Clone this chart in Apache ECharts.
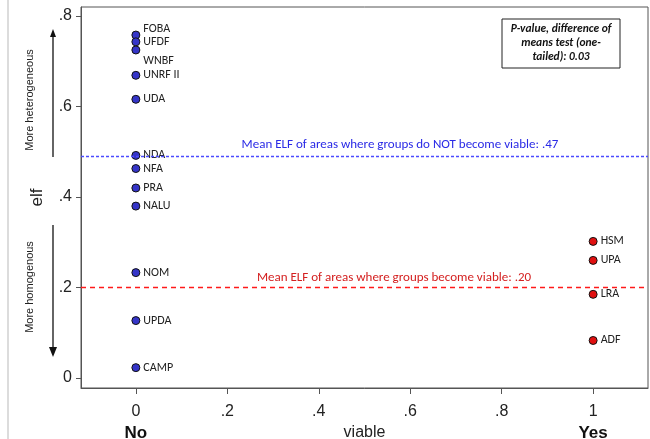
<!DOCTYPE html>
<html>
<head>
<meta charset="utf-8">
<script src="https://cdn.jsdelivr.net/npm/echarts@6/dist/echarts.min.js"></script>
<style>
  html, body { margin: 0; padding: 0; background: #fff; }
  #chart { width: 650px; height: 439px; }
</style>
</head>
<body>
<div id="chart"></div>
<script>
// groups that did NOT become viable (viable = 0)
const notViableNames = ['FOBA', 'UFDF', 'WNBF', 'UNRF II', 'UDA', 'NDA', 'NFA', 'PRA', 'NALU', 'NOM', 'UPDA', 'CAMP'];
const notViableElf = [0.758, 0.743, 0.725, 0.669, 0.616, 0.492, 0.463, 0.420, 0.380, 0.233, 0.127, 0.023];
// groups that became viable (viable = 1)
const viableNames = ['HSM', 'UPA', 'LRA', 'ADF'];
const viableElf = [0.302, 0.260, 0.185, 0.083];

const xTicks = [0, 0.2, 0.4, 0.6, 0.8, 1];
const yTicks = [0, 0.2, 0.4, 0.6, 0.8];
const xCategoryText = ['No', 'Yes'];

// mean lines (as drawn) and their captions
const meanNotViableLine = 0.494;
const meanViableLine = 0.20;
const meanNotViableText = 'Mean ELF of areas where groups do NOT become viable: .47';
const meanViableText = 'Mean ELF of areas where groups become viable: .20';
const pValueLines = ['P-value, difference of', 'means test (one-', 'tailed): 0.03'];

// a couple of labels sit off to the side of their dot
const labelNudge = { FOBA: [0, -6], WNBF: [0, 11] };

const labelFont = 'Carlito, "Liberation Sans", Arial, sans-serif';
const axisFont = '"Liberation Sans", Arial, sans-serif';

function fmtTick(v) {
  if (v === 0) return '0';
  if (v === 1) return '1';
  return String(v).replace(/^0/, '');
}

function buildPoints(names, values, x) {
  return names.map((n, i) => {
    const item = { name: n, value: [x, values[i]] };
    if (labelNudge[n]) item.label = { offset: labelNudge[n] };
    return item;
  });
}

const chart = echarts.init(document.getElementById('chart'));

const pointLabel = {
  show: true,
  position: 'right',
  distance: 3,
  formatter: p => p.name,
  color: '#222',
  fontFamily: labelFont,
  fontSize: 12
};

const blueDash = { color: '#4b4bff', type: [3, 2], width: 1.3 };
const redDash = { color: '#ff1a1a', type: [5, 4], width: 1.3 };

chart.setOption({
  animation: false,
  grid: { left: 81, right: 2, top: 7, bottom: 51, outerBoundsMode: 'none', show: true, borderColor: '#555', borderWidth: 1 },
  xAxis: {
    type: 'value',
    min: -0.12,
    max: 1.12,
    name: 'viable',
    nameLocation: 'middle',
    nameGap: 35,
    nameTextStyle: { fontFamily: axisFont, fontSize: 16, color: '#222' },
    axisLine: { show: true, onZero: false, lineStyle: { color: '#555' } },
    axisTick: { show: true, length: 6, customValues: xTicks, lineStyle: { color: '#555' } },
    axisLabel: { customValues: xTicks, formatter: fmtTick, margin: 16, fontFamily: axisFont, fontSize: 16, color: '#222' },
    splitLine: { show: false }
  },
  yAxis: {
    type: 'value',
    min: -0.022,
    max: 0.82,
    name: 'elf',
    nameLocation: 'middle',
    nameGap: 35,
    nameTextStyle: { fontFamily: axisFont, fontSize: 17, color: '#222' },
    axisLine: { show: true, onZero: false, lineStyle: { color: '#555' } },
    axisTick: { show: true, length: 5, customValues: yTicks, lineStyle: { color: '#555' } },
    axisLabel: { customValues: yTicks, formatter: fmtTick, margin: 9, fontFamily: axisFont, fontSize: 16, color: '#222' },
    splitLine: { show: false }
  },
  series: [
    {
      name: 'not viable',
      type: 'scatter',
      symbolSize: 8,
      itemStyle: { color: '#3535c8', borderColor: '#111', borderWidth: 1, opacity: 1 },
      label: pointLabel,
      data: buildPoints(notViableNames, notViableElf, 0),
      markLine: {
        silent: true,
        symbol: 'none',
        label: { show: false },
        itemStyle: { color: blueDash.color },
        lineStyle: blueDash,
        data: [{ yAxis: meanNotViableLine, lineStyle: blueDash }]
      }
    },
    {
      name: 'viable',
      type: 'scatter',
      symbolSize: 8,
      itemStyle: { color: '#e01010', borderColor: '#111', borderWidth: 1, opacity: 1 },
      label: pointLabel,
      data: buildPoints(viableNames, viableElf, 1),
      markLine: {
        silent: true,
        symbol: 'none',
        label: { show: false },
        itemStyle: { color: redDash.color },
        lineStyle: redDash,
        data: [{ yAxis: meanViableLine, lineStyle: redDash }]
      }
    }
  ]
});

// annotations positioned from the chart's own scales
const pNo = chart.convertToPixel({ gridIndex: 0 }, [0, 0]);
const pYes = chart.convertToPixel({ gridIndex: 0 }, [1, 0]);
const yBlue = chart.convertToPixel({ yAxisIndex: 0 }, meanNotViableLine);
const yRed = chart.convertToPixel({ yAxisIndex: 0 }, meanViableLine);

chart.setOption({
  graphic: [
    { type: 'line', shape: { x1: 8, y1: 0, x2: 8, y2: 439 }, style: { stroke: '#dcdcdc', lineWidth: 2 } },
    // category words under the axis
    { type: 'text', x: pNo[0], y: 433, style: { text: xCategoryText[0], align: 'center', verticalAlign: 'middle', font: 'bold 17px ' + axisFont, fill: '#111' } },
    { type: 'text', x: pYes[0], y: 433, style: { text: xCategoryText[1], align: 'center', verticalAlign: 'middle', font: 'bold 17px ' + axisFont, fill: '#111' } },
    // mean captions
    { type: 'text', x: 400, y: yBlue - 10, style: { text: meanNotViableText, align: 'center', verticalAlign: 'middle', font: '13px ' + labelFont, fill: '#2a2ae6' } },
    { type: 'text', x: 394, y: yRed - 10, style: { text: meanViableText, align: 'center', verticalAlign: 'middle', font: '13px ' + labelFont, fill: '#d42020' } },
    // direction hints on the left
    { type: 'text', x: 30, y: 100, rotation: Math.PI / 2, style: { text: 'More heterogeneous', align: 'center', verticalAlign: 'middle', font: '11px ' + axisFont, fill: '#222' } },
    { type: 'text', x: 30, y: 287, rotation: Math.PI / 2, style: { text: 'More homogenous', align: 'center', verticalAlign: 'middle', font: '11px ' + axisFont, fill: '#222' } },
    { type: 'line', shape: { x1: 53, y1: 157, x2: 53, y2: 34 }, style: { stroke: '#111', lineWidth: 1.3 } },
    { type: 'polygon', shape: { points: [[53, 29], [50, 37], [56, 37]] }, style: { fill: '#111' } },
    { type: 'line', shape: { x1: 53, y1: 225, x2: 53, y2: 350 }, style: { stroke: '#111', lineWidth: 1.3 } },
    { type: 'polygon', shape: { points: [[53, 357], [49, 347], [57, 347]] }, style: { fill: '#111' } },
    // p-value box
    { type: 'rect', shape: { x: 502, y: 19, width: 118, height: 49 }, style: { fill: '#fff', stroke: '#222', lineWidth: 1 } },
    { type: 'text', x: 561, y: 43.5, style: { text: pValueLines.join('\n'), align: 'center', verticalAlign: 'middle', lineHeight: 14, font: 'italic bold 11.5px ' + labelFont, fill: '#111' } }
  ]
});
</script>
</body>
</html>
